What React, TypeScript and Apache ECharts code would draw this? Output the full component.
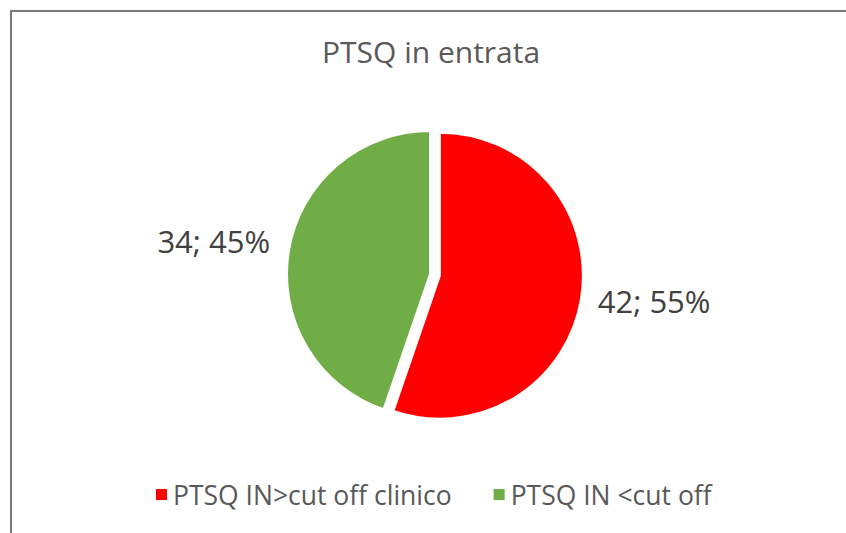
import React, { useEffect, useRef } from "react";
import * as echarts from "echarts";

const TITLE = "PTSQ in entrata";
const categories = ["PTSQ IN>cut off clinico", "PTSQ IN <cut off"];
const values = [42, 34];
const colors = ["#FF0000", "#70AD47"];

export default function App() {
  const ref = useRef<HTMLDivElement>(null);
  useEffect(() => {
    if (!ref.current) return;
    const chart = echarts.init(ref.current, null, { renderer: "svg" });
    const font = "'Open Sans', sans-serif";
    chart.setOption({
      animation: false,
      backgroundColor: "#ffffff",
      title: {
        text: TITLE,
        left: 317,
        top: 31,
        textStyle: { color: "#595959", fontSize: 30, fontWeight: "normal", fontFamily: font },
      },
      legend: {
        data: categories,
        left: 149,
        top: 476,
        icon: "rect",
        itemWidth: 13,
        itemHeight: 13,
        itemGap: 40,
        selectedMode: false,
        textStyle: { color: "#595959", fontSize: 26.5, fontFamily: font },
      },
      graphic: [
        {
          type: "rect",
          shape: { x: 11, y: 11, width: 1000, height: 700 },
          style: { fill: "none", stroke: "#7a7a7a", lineWidth: 2 },
          silent: true,
        },
      ],
      series: [
        {
          type: "pie",
          center: [430, 274],
          radius: 143,
          startAngle: 90,
          clockwise: true,
          selectedMode: "single",
          selectedOffset: 10,
          itemStyle: { borderColor: "#ffffff", borderWidth: 2 },
          emphasis: { disabled: true },
          label: {
            show: true,
            position: "outside",
            formatter: (p: any) => `${p.value}; ${Math.round(p.percent)}%`,
            color: "#404040",
            fontSize: 31,
            fontFamily: font,
            distanceToLabelLine: 5,
          },
          labelLine: { show: false, length: 12, length2: 0 },
          data: categories.map((name, i) => ({
            name,
            value: values[i],
            selected: i === 0,
            itemStyle: { color: colors[i] },
            label: i === 0 ? { offset: [4, 2] } : { offset: [-2, -7] },
          })),
        },
      ],
    });
    return () => chart.dispose();
  }, []);
  return (
    <div
      ref={ref}
      style={{ position: "fixed", left: 0, top: 0, width: 846, height: 533 }}
    />
  );
}
